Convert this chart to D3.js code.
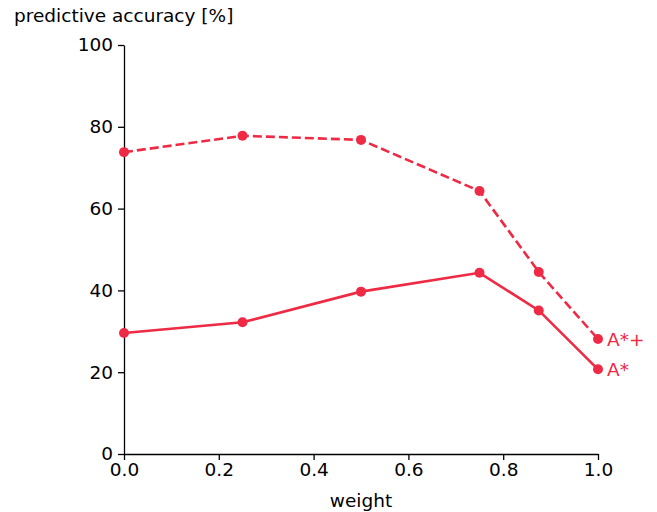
<!DOCTYPE html>
<html>
<head>
<meta charset="utf-8">
<script src="https://cdn.jsdelivr.net/npm/d3@7"></script>
<style>
  body { margin: 0; background: #fff; }
  text { font-family: "DejaVu Sans", sans-serif; }
</style>
</head>
<body>
<script>
// data
const weights = [0, 0.25, 0.5, 0.75, 0.875, 1.0]
const accPlus = [73.8, 77.8, 76.8, 64.3, 44.5, 28.1]   // A*+ (dashed)
const accBase = [29.6, 32.2, 39.7, 44.3, 35.1, 20.7]   // A* (solid)
const xTicks = [0, 0.2, 0.4, 0.6, 0.8, 1.0]
const yTicks = [0, 20, 40, 60, 80, 100]
const seriesNames = ['A*+', 'A*']

const color = '#ee2a44'
const W = 657, H = 512
const fs = 18.5

const svg = d3.select('body')
  .append('svg')
  .attr('width', W)
  .attr('height', H)

const x = d3.scaleLinear().domain([0, 1]).range([124, 598])
const y = d3.scaleLinear().domain([0, 100]).range([454, 45])

// axes
const xAxis = svg.append('g')
  .attr('transform', `translate(0,${y(0)})`)
  .call(d3.axisBottom(x).tickValues(xTicks).tickFormat(d3.format('.1f')).tickSize(6).tickSizeOuter(0))
const yAxis = svg.append('g')
  .attr('transform', `translate(${x(0)},0)`)
  .call(d3.axisLeft(y).tickValues(yTicks).tickFormat(d => d).tickSize(6).tickSizeOuter(0))

for (const ax of [xAxis, yAxis]) {
  ax.select('.domain').attr('stroke', '#000').attr('stroke-width', 1.3)
  ax.selectAll('.tick line').attr('stroke', '#000').attr('stroke-width', 1.3)
  ax.selectAll('.tick text')
    .attr('fill', '#000')
    .style('font-family', '"DejaVu Sans", sans-serif')
    .style('font-size', fs + 'px')
}
xAxis.selectAll('.tick text').attr('y', 9).attr('dy', '0.71em')
yAxis.selectAll('.tick text').attr('x', -11)

// axis titles
svg.append('text')
  .attr('x', 14).attr('y', 22)
  .attr('font-size', fs)
  .text('predictive accuracy [%]')
svg.append('text')
  .attr('x', x(0.5)).attr('y', 507)
  .attr('text-anchor', 'middle')
  .attr('font-size', fs)
  .text('weight')

// lines
const line = d3.line()
  .x((d, i) => x(weights[i]))
  .y(d => y(d))

const series = [
  { name: seriesNames[0], values: accPlus, dash: '9,4' },
  { name: seriesNames[1], values: accBase, dash: null }
]

for (const s of series) {
  svg.append('path')
    .datum(s.values)
    .attr('fill', 'none')
    .attr('stroke', color)
    .attr('stroke-width', 2.6)
    .attr('stroke-dasharray', s.dash)
    .attr('d', line)

  svg.append('g')
    .selectAll('circle')
    .data(s.values)
    .enter()
    .append('circle')
    .attr('cx', (d, i) => x(weights[i]))
    .attr('cy', d => y(d))
    .attr('r', 5)
    .attr('fill', color)

  const last = s.values.length - 1
  svg.append('text')
    .attr('x', x(weights[last]) + 9)
    .attr('y', y(s.values[last]))
    .attr('dy', '0.35em')
    .attr('fill', color)
    .attr('font-size', fs)
    .text(s.name)
}
</script>
</body>
</html>
